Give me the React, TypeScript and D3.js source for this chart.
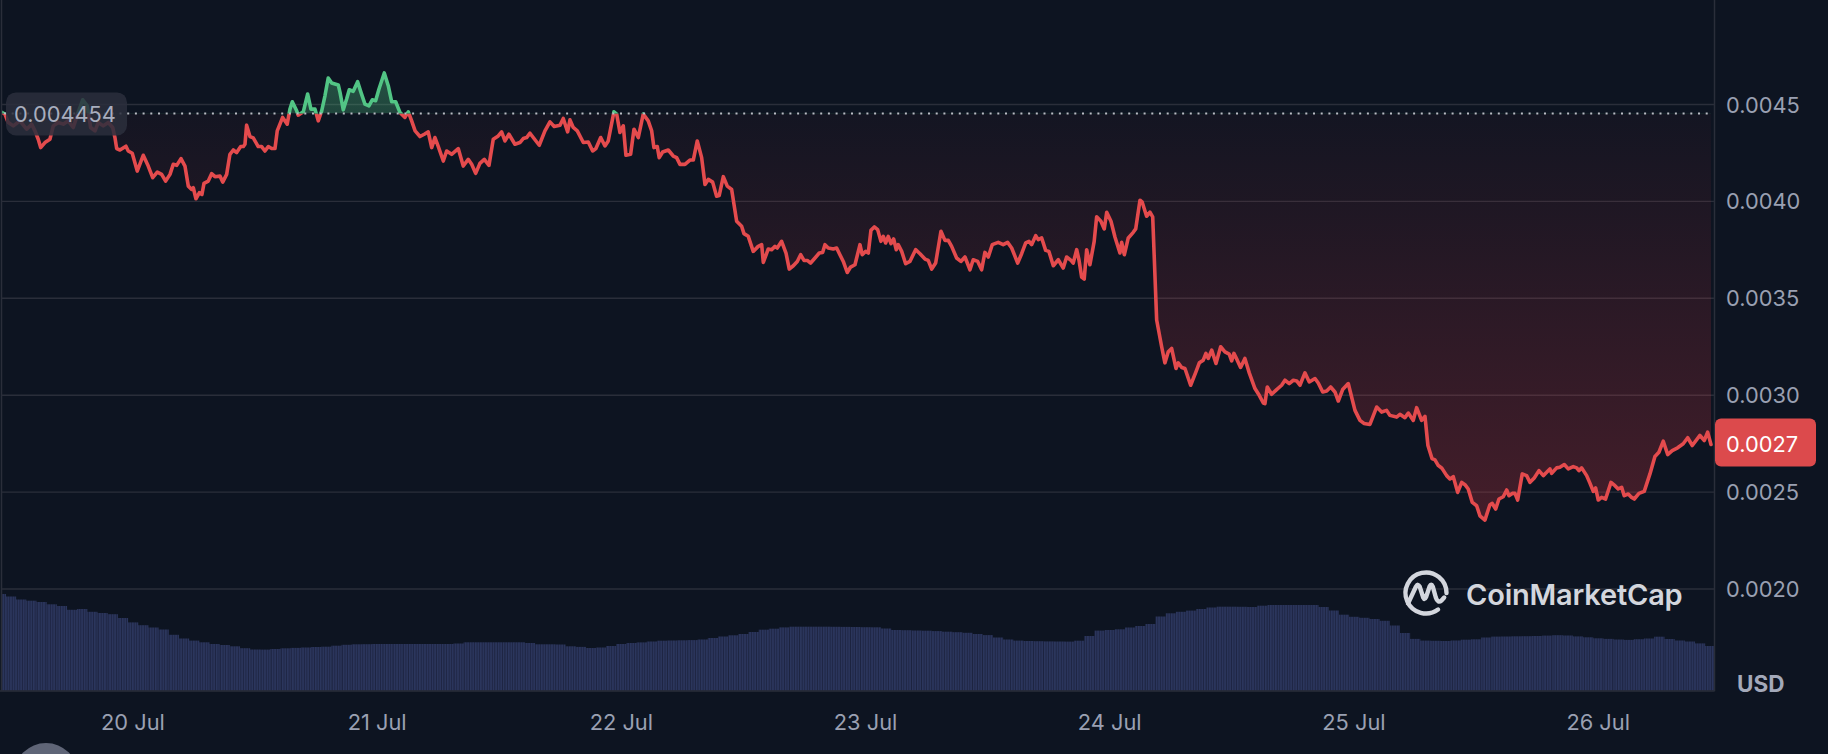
import React, { useEffect } from "react";
import * as d3 from "d3";

// ---------- DATA ----------
// hours since 19 Jul 00:00 UTC
const BASE_TIME = Date.UTC(2024, 6, 19);
const hours = [
  11.10, 11.42, 11.72, 12.24, 12.89, 13.55, 14.04, 14.37, 14.69, 14.93,
  15.35, 15.84, 16.17, 16.66, 17.15, 17.64, 18.13, 18.62, 19.06, 19.51,
  19.84, 20.27, 20.59, 21.08, 21.57, 22.01, 22.23, 22.40, 22.72, 23.31,
  23.54, 23.93, 24.42, 25.01, 25.50, 25.94, 26.39, 26.82, 27.21, 27.64,
  27.96, 28.30, 28.72, 29.11, 29.44, 29.77, 29.93, 30.19, 30.52, 30.78,
  30.98, 31.40, 31.73, 32.06, 32.55, 32.82, 33.21, 33.53, 33.86, 34.19,
  34.59, 34.84, 35.01, 35.17, 35.50, 35.82, 36.31, 36.65, 36.97, 37.30,
  37.63, 37.96, 38.18, 38.71, 39.16, 39.43, 39.66, 40.09, 40.24, 40.74,
  41.17, 41.49, 41.89, 42.21, 42.55, 42.87, 43.19, 43.53, 43.85, 44.18,
  44.35, 44.67, 45.00, 45.26, 45.65, 46.08, 46.41, 46.80, 47.19, 47.52,
  47.85, 48.18, 48.70, 49.09, 49.43, 49.82, 50.24, 50.73, 51.06, 51.39,
  51.73, 52.21, 52.63, 53.02, 53.36, 53.68, 54.01, 54.50, 54.83, 55.32,
  55.97, 56.46, 56.95, 57.29, 57.68, 58.10, 58.53, 58.99, 59.41, 59.90,
  60.23, 60.56, 60.95, 61.54, 62.03, 62.36, 62.69, 63.02, 63.34, 63.93,
  64.49, 64.98, 65.40, 65.97, 66.29, 66.72, 66.95, 67.27, 67.67, 68.26,
  68.75, 69.18, 69.50, 69.97, 70.39, 70.71, 71.27, 71.54, 71.86, 72.19,
  72.45, 72.91, 73.24, 73.66, 74.15, 74.64, 74.98, 75.20, 75.53, 75.72,
  76.06, 76.61, 77.10, 77.43, 77.76, 78.25, 78.74, 79.07, 79.46, 79.89,
  80.22, 80.54, 80.97, 81.36, 81.62, 82.02, 82.41, 82.84, 83.33, 83.82,
  84.05, 84.47, 84.96, 85.45, 85.79, 85.95, 86.44, 86.77, 87.10, 87.32,
  87.75, 88.18, 88.50, 88.90, 89.29, 89.62, 89.95, 90.27, 90.60, 91.03,
  91.45, 91.78, 92.01, 92.33, 92.82, 93.16, 93.48, 93.81, 94.20, 94.53,
  94.96, 95.45, 95.67, 96.01, 96.27, 96.53, 96.86, 97.19, 97.51, 97.74,
  97.97, 98.23, 98.50, 98.76, 99.02, 99.21, 99.55, 99.94, 100.36, 100.92,
  101.35, 101.84, 102.16, 102.50, 102.89, 103.41, 103.80, 104.13, 104.46, 104.95,
  105.37, 105.77, 106.26, 106.58, 107.02, 107.41, 107.73, 108.06, 108.45, 109.04,
  109.53, 109.96, 110.36, 110.95, 111.34, 111.74, 112.06, 112.32, 112.72, 112.97,
  113.31, 113.70, 114.02, 114.45, 114.94, 115.43, 115.76, 116.19, 116.41, 116.75,
  116.97, 117.24, 117.49, 117.73, 118.05, 118.47, 118.71, 119.13, 119.46, 119.70,
  120.12, 120.51, 121.00, 121.17, 121.43, 121.82, 122.31, 122.55, 122.97,
  123.19, 123.62, 123.95, 124.22, 124.61, 125.10, 125.42, 125.75, 126.08, 126.51,
  126.73, 127.07, 127.39, 127.95, 128.47, 128.80, 129.19, 129.45, 129.68, 130.02,
  130.44, 130.90, 131.32, 131.74, 131.98, 132.20, 132.53, 132.86, 133.28, 133.71,
  134.27, 134.69, 135.09, 135.25, 135.48, 135.91, 136.40, 136.89, 137.22, 137.64,
  138.04, 138.37, 138.69, 139.18, 139.61, 140.17, 140.49, 140.93, 141.32, 141.71,
  142.13, 142.46, 142.89, 143.44, 143.77, 144.10, 144.59, 144.98, 145.57, 146.23,
  146.72, 147.21, 147.53, 148.19, 148.52, 149.01, 149.34, 149.83, 150.16, 150.65,
  150.98, 151.27, 151.67, 151.96, 152.29, 152.62, 153.11, 153.43, 153.76, 154.19,
  154.59, 154.91, 155.23, 155.63, 156.06, 156.38, 156.87, 157.36, 157.59, 157.93,
  158.25, 158.67, 159.01, 159.23, 159.56, 159.82, 160.09, 160.54, 160.97, 161.30,
  161.72, 162.18, 162.61, 162.94, 163.26, 163.43, 163.92, 164.24, 164.67, 165.06,
  165.55, 165.89, 166.11, 166.38, 166.87, 167.20, 167.52, 167.75, 168.01, 168.34,
  168.73, 169.26, 169.65, 169.97, 170.31, 170.56, 170.96, 171.29, 171.55, 172.01,
  172.53, 173.09, 173.58, 173.97, 174.40, 174.83, 175.28, 175.81, 176.36, 176.80,
  177.25, 178.00, 178.43, 178.76, 179.09,
];

// price in USD
const prices = [
  0.0044591, 0.0044503, 0.0044088, 0.0043897, 0.0044156, 0.0043726, 0.0043985, 0.0043638, 0.0043208, 0.0042777,
  0.0043037, 0.0043208, 0.0043897, 0.0044073, 0.0043985, 0.0044156, 0.0043814, 0.0044591, 0.0045244, 0.0044933,
  0.0043814, 0.0043638, 0.0044073, 0.0043897, 0.0044073, 0.0043814, 0.0043296, 0.0042726, 0.0042653, 0.0042845,
  0.0042601, 0.0042482, 0.0041565, 0.0042379, 0.0041824, 0.0041223, 0.0041513, 0.0041394, 0.0041047, 0.0041394,
  0.0041912, 0.0041860, 0.0042208, 0.0041824, 0.0040788, 0.0040617, 0.0040705, 0.0040135, 0.0040446, 0.0040358,
  0.0040928, 0.0041047, 0.0041430, 0.0041275, 0.0041306, 0.0040995, 0.0041394, 0.0042430, 0.0042653, 0.0042518,
  0.0042829, 0.0042829, 0.0042948, 0.0043933, 0.0043347, 0.0043275, 0.0042829, 0.0042829, 0.0042601, 0.0042829,
  0.0042726, 0.0042726, 0.0043638, 0.0044332, 0.0043985, 0.0044762, 0.0045140, 0.0044674, 0.0044451, 0.0044622,
  0.0045539, 0.0044762, 0.0044762, 0.0044156, 0.0044674, 0.0045451, 0.0046368, 0.0046109, 0.0046057, 0.0046005,
  0.0045627, 0.0044726, 0.0045280, 0.0045762, 0.0045679, 0.0046176, 0.0045627, 0.0045021, 0.0044933, 0.0045244,
  0.0045192, 0.0045798, 0.0046627, 0.0045969, 0.0045140, 0.0045140, 0.0044591, 0.0044332, 0.0044622, 0.0044156,
  0.0043638, 0.0043347, 0.0043467, 0.0043586, 0.0042777, 0.0043296, 0.0042829, 0.0042083, 0.0042601, 0.0042430,
  0.0042726, 0.0041824, 0.0042171, 0.0041912, 0.0041446, 0.0041964, 0.0042171, 0.0041860, 0.0043208, 0.0043379,
  0.0043586, 0.0043119, 0.0043467, 0.0042948, 0.0043037, 0.0043244, 0.0043296, 0.0043518, 0.0043296, 0.0042897,
  0.0043638, 0.0044104, 0.0043866, 0.0043933, 0.0044280, 0.0043586, 0.0044208, 0.0043814, 0.0043638, 0.0043037,
  0.0043068, 0.0042601, 0.0042726, 0.0043296, 0.0042860, 0.0043119, 0.0044622, 0.0044503, 0.0043555, 0.0043897,
  0.0042379, 0.0042430, 0.0043726, 0.0043296, 0.0044503, 0.0044156, 0.0043638, 0.0042777, 0.0042829, 0.0042259,
  0.0042550, 0.0042653, 0.0042342, 0.0042259, 0.0041912, 0.0041912, 0.0042135, 0.0042135, 0.0043119, 0.0042259,
  0.0040876, 0.0041135, 0.0040995, 0.0040270, 0.0040306, 0.0041275, 0.0040788, 0.0040617, 0.0038974, 0.0038715,
  0.0038337, 0.0038197, 0.0037420, 0.0037679, 0.0037767, 0.0036850, 0.0037544, 0.0037508, 0.0037679, 0.0037596,
  0.0037938, 0.0037337, 0.0036508, 0.0036679, 0.0036902, 0.0037249, 0.0036954, 0.0036954, 0.0036819, 0.0037078,
  0.0037337, 0.0037368, 0.0037767, 0.0037596, 0.0037544, 0.0037596, 0.0037249, 0.0036902, 0.0036332, 0.0036612,
  0.0036731, 0.0037767, 0.0037249, 0.0037420, 0.0037337, 0.0038508, 0.0038684, 0.0038544, 0.0037938, 0.0038197,
  0.0037855, 0.0038197, 0.0037819, 0.0038062, 0.0037508, 0.0037767, 0.0037420, 0.0036783, 0.0036902, 0.0037508,
  0.0037301, 0.0037026, 0.0036954, 0.0036508, 0.0036819, 0.0038456, 0.0037990, 0.0037990, 0.0037679, 0.0037078,
  0.0036902, 0.0037130, 0.0036472, 0.0036990, 0.0036902, 0.0036472, 0.0037368, 0.0037130, 0.0037767, 0.0037886,
  0.0037767, 0.0037886, 0.0037596, 0.0036819, 0.0037301, 0.0037855, 0.0037938, 0.0037767, 0.0038233, 0.0038026,
  0.0038114, 0.0037472, 0.0037420, 0.0036679, 0.0036990, 0.0036560, 0.0037130, 0.0036954, 0.0036819, 0.0037508,
  0.0036990, 0.0036094, 0.0035990, 0.0037508, 0.0036731, 0.0037938, 0.0039202, 0.0038974, 0.0038581, 0.0039441,
  0.0038974, 0.0038166, 0.0037337, 0.0037886, 0.0037249, 0.0038114, 0.0038404, 0.0038581, 0.0040062,
  0.0039959, 0.0039233, 0.0039441, 0.0039202, 0.0033881, 0.0032498, 0.0031669, 0.0032239, 0.0032415, 0.0031379,
  0.0031669, 0.0031430, 0.0031379, 0.0030513, 0.0031202, 0.0031669, 0.0031809, 0.0032156, 0.0031897, 0.0032327,
  0.0031638, 0.0032498, 0.0032239, 0.0032120, 0.0031772, 0.0032156, 0.0031809, 0.0031430, 0.0031897, 0.0031151,
  0.0030342, 0.0029995, 0.0029596, 0.0029565, 0.0030425, 0.0030047, 0.0030290, 0.0030513, 0.0030772, 0.0030601,
  0.0030772, 0.0030736, 0.0030513, 0.0031151, 0.0030684, 0.0030860, 0.0030632, 0.0030166, 0.0030218, 0.0030425,
  0.0030166, 0.0029700, 0.0030290, 0.0030601, 0.0029907, 0.0029218, 0.0028700, 0.0028544, 0.0028493, 0.0029389,
  0.0029130, 0.0029218, 0.0028959, 0.0028871, 0.0029011, 0.0028840, 0.0029078, 0.0028700, 0.0029358, 0.0028700,
  0.0028907, 0.0027405, 0.0026731, 0.0026664, 0.0026368, 0.0026249, 0.0025850, 0.0025679, 0.0025798, 0.0024985,
  0.0025503, 0.0025384, 0.0025161, 0.0024467, 0.0024296, 0.0023778, 0.0023555, 0.0024347, 0.0024415, 0.0024125,
  0.0024643, 0.0024762, 0.0025109, 0.0024814, 0.0024933, 0.0024933, 0.0024591, 0.0025938, 0.0025850, 0.0025503,
  0.0025731, 0.0026109, 0.0025850, 0.0026021, 0.0026197, 0.0025969, 0.0026249, 0.0026280, 0.0026420, 0.0026197,
  0.0026316, 0.0026249, 0.0026109, 0.0026249, 0.0025850, 0.0025451, 0.0025037, 0.0025213, 0.0024591, 0.0024726,
  0.0024643, 0.0025503, 0.0025332, 0.0025161, 0.0025244, 0.0024814, 0.0024902, 0.0024726, 0.0024643, 0.0024933,
  0.0025037, 0.0025938, 0.0026835, 0.0027058, 0.0027627, 0.0026938, 0.0027145, 0.0027285, 0.0027493, 0.0027804,
  0.0027405, 0.0027923, 0.0027664, 0.0028094, 0.0027456,
];

// hourly 24h-volume bars (thousand USD), starting at hour 11 of 19 Jul
const VOLUME_START_HOUR = 11;
const volumes = [
  967, 942, 912, 900, 887, 864, 847, 809, 817, 789,
  777, 765, 727, 683, 655, 632, 612, 559, 522, 501,
  484, 467, 457, 444, 425, 412, 411, 417, 424, 428,
  432, 437, 440, 450, 459, 464, 465, 467, 467, 467,
  467, 467, 467, 467, 467, 472, 484, 484, 484, 484,
  484, 484, 477, 464, 464, 462, 444, 438, 427, 432,
  447, 467, 477, 483, 492, 500, 502, 504, 506, 512,
  527, 542, 554, 567, 587, 610, 620, 633, 640, 640,
  640, 640, 639, 638, 637, 635, 634, 622, 607, 605,
  602, 600, 596, 590, 585, 579, 567, 556, 532, 512,
  501, 497, 495, 493, 492, 491, 500, 547, 601, 607,
  614, 632, 647, 667, 742, 774, 789, 801, 817, 832,
  840, 840, 839, 837, 850, 857, 857, 857, 857, 857,
  837, 802, 760, 739, 729, 717, 699, 652, 577, 518,
  501, 499, 497, 502, 510, 514, 532, 541, 542, 544,
  545, 547, 551, 555, 552, 543, 534, 524, 518, 512,
  508, 515, 522, 540, 517, 502, 492, 473, 447,
];

const priceTicks = [0.002, 0.0025, 0.003, 0.0035, 0.004, 0.0045];
const referencePrice = 0.004454;

// ---------- STYLE ----------
const W = 1828;
const H = 754;
const BG = "#0d1421";
const GRID = "#2a2e3a";
const RED = "#e44b4d";
const GREEN = "#52c585";
const AXIS_TEXT = "#9aa0b2";
const FONT = "Inter, 'Noto Sans', sans-serif";
const LABEL_SIZE = 21.8;

const PLOT_L = 2;
const PLOT_R = 1714;
const PLOT_B = 690.7;

export default function App() {
  useEffect(() => {
    document.body.style.margin = "0";
    document.body.style.background = BG;
    document.body.style.overflow = "hidden";
  }, []);

  const toDate = (h: number) => new Date(BASE_TIME + h * 3600000);
  const pts = hours.map((h, i) => ({ t: toDate(h), p: prices[i] }));

  const x = d3
    .scaleUtc()
    .domain([toDate(hours[0]), toDate(hours[hours.length - 1])])
    .range([1.7, 1711]);
  const y = d3.scaleLinear().domain([0.002, 0.0045]).range([589, 104.5]);
  const vy = d3.scaleLinear().domain([0, 1000]).range([PLOT_B, PLOT_B - 100]);

  const yBase = y(referencePrice);
  const line = d3
    .line<{ t: Date; p: number }>()
    .x((d) => x(d.t))
    .y((d) => y(d.p));
  const area = d3
    .area<{ t: Date; p: number }>()
    .x((d) => x(d.t))
    .y0(yBase)
    .y1((d) => y(d.p));

  const linePath = line(pts) || "";
  const areaPath = area(pts) || "";

  const dayTicks = d3.utcDay.range(
    d3.utcDay.ceil(x.domain()[0]),
    x.domain()[1]
  );
  const fmtDay = d3.utcFormat("%-d %b");
  const fmtAxis = d3.format(".4f");
  const fmtRef = d3.format(".6f");

  const last = prices[prices.length - 1];
  const yLast = y(last);

  const volBars = volumes.map((v, i) => {
    const h = VOLUME_START_HOUR + i;
    const cx = x(toDate(h));
    const w = x(toDate(h + 1)) - cx;
    return { x0: cx - w / 2, w, y0: vy(v) };
  });

  return (
    <svg
      width={W}
      height={H}
      viewBox={`0 0 ${W} ${H}`}
      style={{ position: "absolute", left: 0, top: 0, display: "block", background: BG }}
      fontFamily={FONT}
    >
      <defs>
        <clipPath id="plotClip">
          <rect x={PLOT_L} y={0} width={PLOT_R - PLOT_L} height={PLOT_B} />
        </clipPath>
        <clipPath id="aboveClip">
          <rect x={PLOT_L} y={0} width={PLOT_R - PLOT_L} height={yBase} />
        </clipPath>
        <clipPath id="belowClip">
          <rect x={PLOT_L} y={yBase} width={PLOT_R - PLOT_L} height={PLOT_B - yBase} />
        </clipPath>
        <linearGradient id="redFill" gradientUnits="userSpaceOnUse" x1={0} y1={yBase} x2={0} y2={590}>
          <stop offset="0" stopColor="rgb(234,57,67)" stopOpacity={0.03} />
          <stop offset="1" stopColor="rgb(234,57,67)" stopOpacity={0.29} />
        </linearGradient>
        <linearGradient id="greenFill" gradientUnits="userSpaceOnUse" x1={0} y1={60} x2={0} y2={yBase}>
          <stop offset="0" stopColor="rgb(80,195,130)" stopOpacity={0.38} />
          <stop offset="1" stopColor="rgb(80,195,130)" stopOpacity={0.28} />
        </linearGradient>
        <pattern id="volStripes" patternUnits="userSpaceOnUse" width={2.54} height={10}>
          <rect x={0} y={0} width={2.54} height={10} fill="#1e2543" />
          <rect x={0} y={0} width={1.6} height={10} fill="#2b365d" />
        </pattern>
      </defs>

      <rect x={0} y={0} width={W} height={H} fill={BG} />

      {/* gridlines */}
      {priceTicks.map((t) => (
        <line key={t} x1={PLOT_L} x2={PLOT_R} y1={y(t)} y2={y(t)} stroke={GRID} strokeWidth={1.4} />
      ))}

      {/* volume */}
      <g clipPath="url(#plotClip)">
        {volBars.map((b, i) => (
          <rect key={i} x={b.x0} y={b.y0} width={b.w + 0.2} height={PLOT_B - b.y0} fill="url(#volStripes)" />
        ))}
      </g>

      {/* baseline fills */}
      <g clipPath="url(#belowClip)">
        <path d={areaPath} fill="url(#redFill)" />
      </g>
      <g clipPath="url(#aboveClip)">
        <path d={areaPath} fill="url(#greenFill)" />
      </g>

      {/* price lines */}
      <g clipPath="url(#belowClip)">
        <path d={linePath} fill="none" stroke={RED} strokeWidth={3.6} strokeLinejoin="round" strokeLinecap="round" />
      </g>
      <g clipPath="url(#aboveClip)">
        <path d={linePath} fill="none" stroke={GREEN} strokeWidth={3.6} strokeLinejoin="round" strokeLinecap="round" />
      </g>

      {/* reference dotted line */}
      <line
        x1={4}
        x2={1712}
        y1={yBase}
        y2={yBase}
        stroke="#b9bcc4"
        strokeWidth={2}
        strokeDasharray="2 5.7"
      />

      {/* reference label */}
      <rect x={6} y={yBase - 21} width={121} height={43} rx={10} fill="rgba(43,47,60,0.86)" />
      <text x={14} y={yBase + 1} fontSize={LABEL_SIZE} fill="#a9aebe" dominantBaseline="central">
        {fmtRef(referencePrice)}
      </text>

      {/* CoinMarketCap watermark */}
      <g stroke="#d3d6dd" fill="none" strokeWidth={4.4} strokeLinecap="round" strokeLinejoin="round">
        <path d="M 1438.05 609.58 A 20.5 20.5 0 1 1 1446.5 593" />
        <path d="M 1408 603.5 L 1416 586.5 Q 1418 583 1419.8 586.8 L 1423.2 597.5 Q 1424.6 600.5 1426 597.2 L 1429.6 586.5 Q 1431.2 583 1432.8 586.6 L 1435.8 597.5 Q 1437.8 603.5 1441.5 600.5 L 1444.2 597.5" />
      </g>
      <text x={1466} y={605} fontSize={29} fontWeight={600} fill="#d3d6dd" letterSpacing={-0.2}>
        CoinMarketCap
      </text>

      {/* frame lines */}
      <line x1={1.5} x2={1.5} y1={0} y2={PLOT_B} stroke={GRID} strokeWidth={1.5} />
      <line x1={PLOT_R + 0.5} x2={PLOT_R + 0.5} y1={0} y2={PLOT_B + 0.5} stroke={GRID} strokeWidth={1.5} />
      <line x1={0} x2={PLOT_R + 0.5} y1={PLOT_B + 0.3} y2={PLOT_B + 0.3} stroke={GRID} strokeWidth={1.5} />

      {/* price axis labels */}
      {priceTicks.map((t) => (
        <text key={t} x={1726} y={y(t)} fontSize={LABEL_SIZE} fill={AXIS_TEXT} dominantBaseline="central">
          {fmtAxis(t)}
        </text>
      ))}

      {/* current price label */}
      <rect x={PLOT_R + 1} y={yLast - 26} width={101} height={48} rx={6} fill="#dc4a4c" />
      <text x={1726} y={yLast - 1} fontSize={LABEL_SIZE} fill="#ffffff" dominantBaseline="central">
        {fmtAxis(last)}
      </text>

      {/* USD */}
      <text x={1737} y={683} fontSize={22.5} fontWeight={700} fill="#a3a9ba" dominantBaseline="central">
        USD
      </text>

      {/* time axis labels */}
      {dayTicks.map((d) => (
        <text
          key={d.getTime()}
          x={x(d)}
          y={722}
          fontSize={LABEL_SIZE}
          fill={AXIS_TEXT}
          textAnchor="middle"
          dominantBaseline="central"
        >
          {fmtDay(d)}
        </text>
      ))}

      {/* partially visible control at bottom-left */}
      <rect x={14} y={743} width={64} height={64} rx={32} fill="#5f6577" />
    </svg>
  );
}
